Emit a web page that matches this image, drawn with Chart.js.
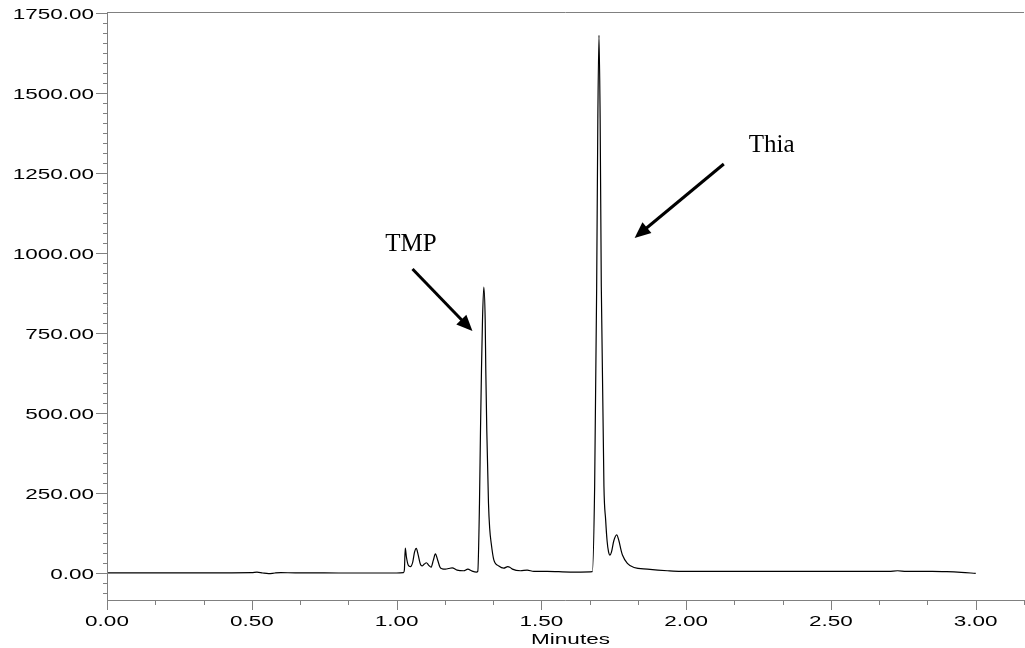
<!DOCTYPE html>
<html>
<head>
<meta charset="utf-8">
<script src="https://cdn.jsdelivr.net/npm/chart.js@4.4.1/dist/chart.umd.min.js"></script>
<style>
  html, body { margin: 0; padding: 0; background: #ffffff; }
  #wrap { width: 1025px; height: 648px; position: relative; }
</style>
</head>
<body>
<div id="wrap"><canvas id="c" width="1025" height="648"></canvas></div>
<script>
// ---- data (retention time in minutes, detector response) ----
const times = [
  0, 0.1, 0.2, 0.3, 0.4, 0.5, 0.518, 0.538, 0.558, 0.58, 0.60, 0.65, 0.70, 0.80, 0.90, 1.00,
  1.024, 1.027, 1.030, 1.034, 1.040, 1.048, 1.056, 1.062, 1.068, 1.075, 1.082, 1.088, 1.096,
  1.103, 1.111, 1.119, 1.127, 1.134, 1.142, 1.150, 1.158, 1.169, 1.180, 1.192, 1.209, 1.232,
  1.246, 1.261, 1.276,
  1.2804, 1.2863, 1.2898, 1.2932, 1.2967, 1.3012, 1.306, 1.3081, 1.3115, 1.3174, 1.3215, 1.3268,
  1.3358, 1.353, 1.370, 1.384, 1.391, 1.40, 1.428, 1.451, 1.474, 1.52, 1.60, 1.636, 1.676,
  1.684, 1.691, 1.695, 1.699, 1.703, 1.707, 1.7161, 1.722, 1.727, 1.732, 1.737, 1.742, 1.750,
  1.760, 1.768, 1.775, 1.780, 1.797, 1.820, 1.866, 1.935, 1.981, 2.1, 2.3, 2.5, 2.7, 2.73, 2.76,
  2.85, 2.9, 2.95, 3.0
];
const response = [
  0.5, 0.5, 0.5, 0.5, 0.5, 1, 3, 0, -2, 0, 1, 0.5, 0.5, 0, 0, 0,
  1, 10, 78, 50, 25, 20, 35, 65, 77, 55, 28, 22, 28,
  32, 24, 18, 40, 60, 40, 18, 13, 12, 14, 16, 9, 7,
  12, 6, 3,
  5, 218, 447, 634, 790, 893, 790, 634, 447, 218, 140, 93,
  41, 22, 15, 20, 18, 12, 7, 9, 5, 5, 3, 3, 4,
  270, 895, 1416, 1680, 1416, 895, 270, 166, 100, 66, 56, 65, 100,
  119, 100, 72, 56, 30, 17, 12, 7, 5, 5, 5, 5, 5, 7, 5,
  5, 4, 2, -1
];

// ---- axes ----
const xMajorTicks = [0, 0.5, 1.0, 1.5, 2.0, 2.5, 3.0];
const xTickLabels = ['0.00', '0.50', '1.00', '1.50', '2.00', '2.50', '3.00'];
const yMajorTicks = [0, 250, 500, 750, 1000, 1250, 1500, 1750];
const yTickLabels = ['0.00', '250.00', '500.00', '750.00', '1000.00', '1250.00', '1500.00', '1750.00'];
const xTitle = 'Minutes';

// ---- peak annotations (data coordinates) ----
const annLabels = ['TMP', 'Thia'];
const annLabelPos = [[0.961, 1005], [2.216, 1317]];
const annArrowFrom = [[1.055, 950], [2.130, 1278]];
const annArrowTo = [[1.262, 756], [1.822, 1047]];

const AXIS = '#808080';
const STRETCH = 1.5;
const SANS = '15px "Liberation Sans", Arial, sans-serif';

function stretchedText(ctx, text, x, y, align, sx) {
  const w = ctx.measureText(text).width * sx;
  let left = x;
  if (align === 'right') left = x - w;
  else if (align === 'center') left = x - w / 2;
  ctx.save();
  ctx.translate(left, y);
  ctx.scale(sx, 1);
  ctx.textAlign = 'left';
  ctx.textBaseline = 'alphabetic';
  ctx.fillText(text, 0, 0);
  ctx.restore();
}

const axesPlugin = {
  id: 'chromAxes',
  afterDraw(chart) {
    const ctx = chart.ctx;
    const xs = chart.scales.x, ys = chart.scales.y;
    const ca = chart.chartArea;
    ctx.save();
    ctx.strokeStyle = AXIS;
    ctx.lineWidth = 1;
    ctx.beginPath();
    // frame: left, bottom, top
    ctx.moveTo(ca.left + 0.5, ca.top);
    ctx.lineTo(ca.left + 0.5, ca.bottom + 0.5);
    ctx.lineTo(ca.right, ca.bottom + 0.5);
    ctx.moveTo(ca.left, ca.top + 0.5);
    ctx.lineTo(ca.right, ca.top + 0.5);
    // y ticks
    for (let v = -62.5; v <= ys.max + 0.01; v += 31.25) {
      const py = Math.round(ys.getPixelForValue(v)) + 0.5;
      const major = Math.abs(v % 250) < 0.01;
      ctx.moveTo(ca.left - (major ? 11 : 4), py);
      ctx.lineTo(ca.left, py);
    }
    // x ticks
    for (let k = 0; k <= 19; k++) {
      const v = k / 6;
      if (v > xs.max + 1e-6) break;
      const px = Math.round(xs.getPixelForValue(v)) + 0.5;
      const major = k % 3 === 0;
      ctx.moveTo(px, ca.bottom);
      ctx.lineTo(px, ca.bottom + (major ? 10 : 5));
    }
    ctx.stroke();

    ctx.fillStyle = '#000000';
    ctx.font = SANS;
    yMajorTicks.forEach((v, i) => {
      const py = ys.getPixelForValue(v);
      stretchedText(ctx, yTickLabels[i], ca.left - 13, py + 6, 'right', STRETCH);
    });
    xMajorTicks.forEach((v, i) => {
      const px = xs.getPixelForValue(v);
      stretchedText(ctx, xTickLabels[i], px, 626, 'center', STRETCH);
    });
    stretchedText(ctx, xTitle, (ca.left + ca.right) / 2 + 5, 644, 'center', STRETCH);

    // annotations
    ctx.font = '25px "Liberation Serif", "Times New Roman", serif';
    ctx.textAlign = 'left';
    ctx.textBaseline = 'alphabetic';
    annLabels.forEach((t, i) => {
      ctx.fillText(t, xs.getPixelForValue(annLabelPos[i][0]), ys.getPixelForValue(annLabelPos[i][1]));
      const x0 = xs.getPixelForValue(annArrowFrom[i][0]), y0 = ys.getPixelForValue(annArrowFrom[i][1]);
      const x1 = xs.getPixelForValue(annArrowTo[i][0]), y1 = ys.getPixelForValue(annArrowTo[i][1]);
      const ang = Math.atan2(y1 - y0, x1 - x0);
      const hl = 16, hw = 7;
      const bx = x1 - hl * Math.cos(ang), by = y1 - hl * Math.sin(ang);
      ctx.strokeStyle = '#000000';
      ctx.lineWidth = 3;
      ctx.beginPath();
      ctx.moveTo(x0, y0);
      ctx.lineTo(bx + 2 * Math.cos(ang), by + 2 * Math.sin(ang));
      ctx.stroke();
      ctx.beginPath();
      ctx.moveTo(x1, y1);
      ctx.lineTo(bx + hw * Math.sin(ang), by - hw * Math.cos(ang));
      ctx.lineTo(bx - hw * Math.sin(ang), by + hw * Math.cos(ang));
      ctx.closePath();
      ctx.fillStyle = '#000000';
      ctx.fill();
    });
    ctx.restore();
  }
};

new Chart(document.getElementById('c'), {
  type: 'line',
  data: {
    datasets: [{
      data: times.map((t, i) => ({ x: t, y: response[i] })),
      borderColor: '#000000',
      borderWidth: 1.2,
      pointRadius: 0,
      fill: false,
      cubicInterpolationMode: 'monotone'
    }]
  },
  options: {
    responsive: false,
    animation: false,
    devicePixelRatio: 1,
    layout: { padding: { left: 0, right: 1, top: 12, bottom: 0 } },
    plugins: { legend: { display: false }, tooltip: { enabled: false } },
    scales: {
      x: {
        type: 'linear',
        min: 0,
        max: 3.1667,
        grid: { display: false },
        border: { display: false },
        ticks: { display: false },
        afterFit(s) { s.height = 48; }
      },
      y: {
        type: 'linear',
        min: -84.4,
        max: 1753,
        grid: { display: false },
        border: { display: false },
        ticks: { display: false },
        afterFit(s) { s.width = 107; }
      }
    }
  },
  plugins: [axesPlugin]
});
</script>
</body>
</html>
